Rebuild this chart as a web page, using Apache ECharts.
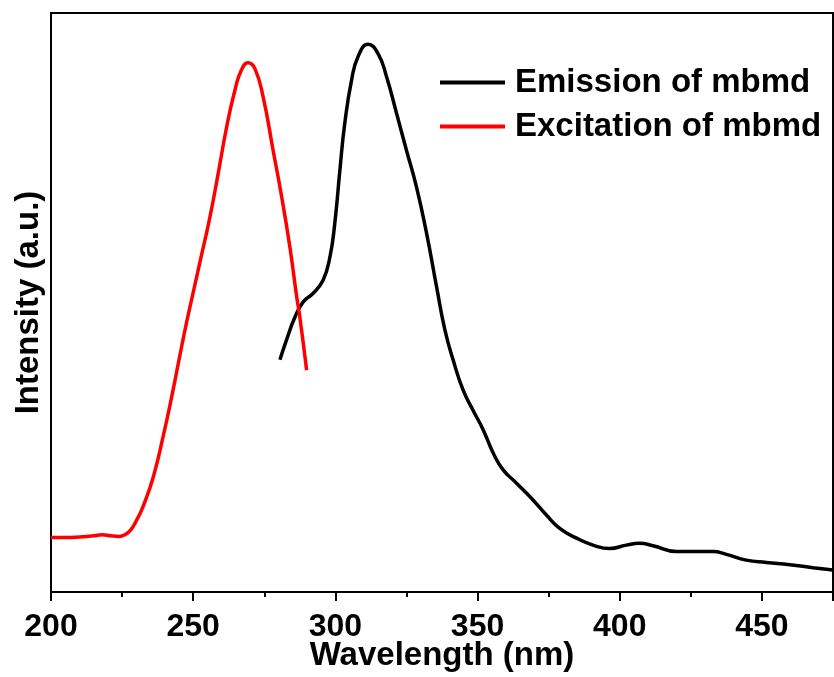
<!DOCTYPE html>
<html>
<head>
<meta charset="utf-8">
<script src="https://cdn.jsdelivr.net/npm/echarts@6/dist/echarts.min.js"></script>
<style>
html,body{margin:0;padding:0;background:#fff;}
#chart{width:834px;height:677px;}
</style>
</head>
<body>
<div id="chart"></div>
<script>
var xTickLabels = ['200', '250', '300', '350', '400', '450'];
var seriesNames = ['Emission of mbmd', 'Excitation of mbmd'];

var excitationX = [200, 205, 210, 215, 218, 221, 224, 226, 228, 230, 232.4, 236, 239.5, 242.4, 245.3, 247.7, 252.4, 255.9, 258.8, 261.8, 264.7, 267, 269.3, 271.7, 274.6, 278.1, 281.1, 284, 286.4, 287.5, 289.9];
var excitationY = [9.4, 9.4, 9.5, 9.7, 9.9, 9.7, 9.6, 9.9, 10.7, 12.3, 14.8, 19.9, 27.0, 33.6, 40.8, 46.6, 57.0, 64.8, 72.3, 80.4, 86.7, 90.2, 91.4, 90.4, 85.5, 76.3, 68.3, 59.6, 51.0, 47.5, 38.3];

var emissionX = [280.5, 282.8, 285.8, 288.7, 292.2, 295.7, 298.1, 299.8, 301.6, 303.3, 305.7, 308, 311.5, 315, 318, 321.5, 325, 328.5, 332.1, 335.6, 338.5, 341.4, 344.9, 348.4, 352, 355.5, 359, 363.7, 369.5, 374.2, 378.9, 384.8, 390.6, 396.5, 402.3, 407, 411.7, 419.9, 425.8, 432.8, 437.5, 444.5, 451.6, 459.8, 468, 475];
var emissionY = [40.1, 43.5, 47.5, 50.1, 51.6, 53.9, 57.9, 63.7, 72.9, 80.9, 88.4, 92.5, 94.6, 93.0, 89.0, 82.7, 76.3, 70.0, 61.9, 52.7, 45.3, 40.1, 34.9, 31.4, 28.0, 24.0, 21.1, 18.8, 15.9, 13.3, 11.0, 9.3, 8.1, 7.5, 8.1, 8.4, 8.0, 7.0, 7.0, 7.0, 6.5, 5.5, 5.1, 4.7, 4.2, 3.8];

function zip(xs, ys) { return xs.map(function (x, i) { return [x, ys[i]]; }); }

var FONT = '"Liberation Sans", Arial, sans-serif';
var chart = echarts.init(document.getElementById('chart'), null, {renderer: 'canvas'});
chart.setOption({
  animation: false,
  backgroundColor: '#fff',
  grid: {left: 51, top: 13, right: 1, bottom: 85, outerBoundsMode: 'none', containLabel: false,
         show: true, borderColor: '#000', borderWidth: 2, backgroundColor: 'transparent'},
  legend: {
    orient: 'vertical', left: 435, top: 61, itemGap: 11,
    itemWidth: 65, itemHeight: 4, icon: 'rect',
    data: seriesNames,
    textStyle: {fontFamily: FONT, fontWeight: 'bold', fontSize: 33, color: '#000', padding: [0, 0, 0, 5]}
  },
  xAxis: {
    type: 'value', min: 200, max: 475, interval: 50,
    axisLine: {show: true, onZero: false, lineStyle: {color: '#000', width: 2}},
    axisTick: {show: true, inside: false, length: 9, lineStyle: {color: '#000', width: 2}},
    minorTick: {show: true, splitNumber: 2, length: 5, lineStyle: {color: '#000', width: 2}},
    splitLine: {show: false},
    axisLabel: {
      margin: 19, fontFamily: FONT, fontWeight: 'bold', fontSize: 32, color: '#000',
      showMaxLabel: false,
      formatter: function (v) { var i = xTickLabels.indexOf(String(v)); return i >= 0 ? xTickLabels[i] : ''; }
    },
    name: 'Wavelength (nm)', nameLocation: 'middle', nameGap: 47, nameMoveOverlap: false,
    nameTextStyle: {fontFamily: FONT, fontWeight: 'bold', fontSize: 33, color: '#000'}
  },
  yAxis: {
    type: 'value', min: 0, max: 100,
    axisLine: {show: true, lineStyle: {color: '#000', width: 2}},
    axisTick: {show: false}, axisLabel: {show: false}, splitLine: {show: false},
    name: 'Intensity (a.u.)', nameLocation: 'middle', nameGap: 6, nameMoveOverlap: false,
    nameTextStyle: {fontFamily: FONT, fontWeight: 'bold', fontSize: 33, color: '#000'}
  },
  series: [
    {name: seriesNames[0], type: 'line', data: zip(emissionX, emissionY), smooth: 0.5, showSymbol: false, symbol: 'none',
     lineStyle: {color: '#000', width: 3.5}, itemStyle: {color: '#000'}, clip: true},
    {name: seriesNames[1], type: 'line', data: zip(excitationX, excitationY), smooth: 0.5, showSymbol: false, symbol: 'none',
     lineStyle: {color: '#ff0000', width: 3.5}, itemStyle: {color: '#ff0000'}, clip: true}
  ]
});
</script>
</body>
</html>
